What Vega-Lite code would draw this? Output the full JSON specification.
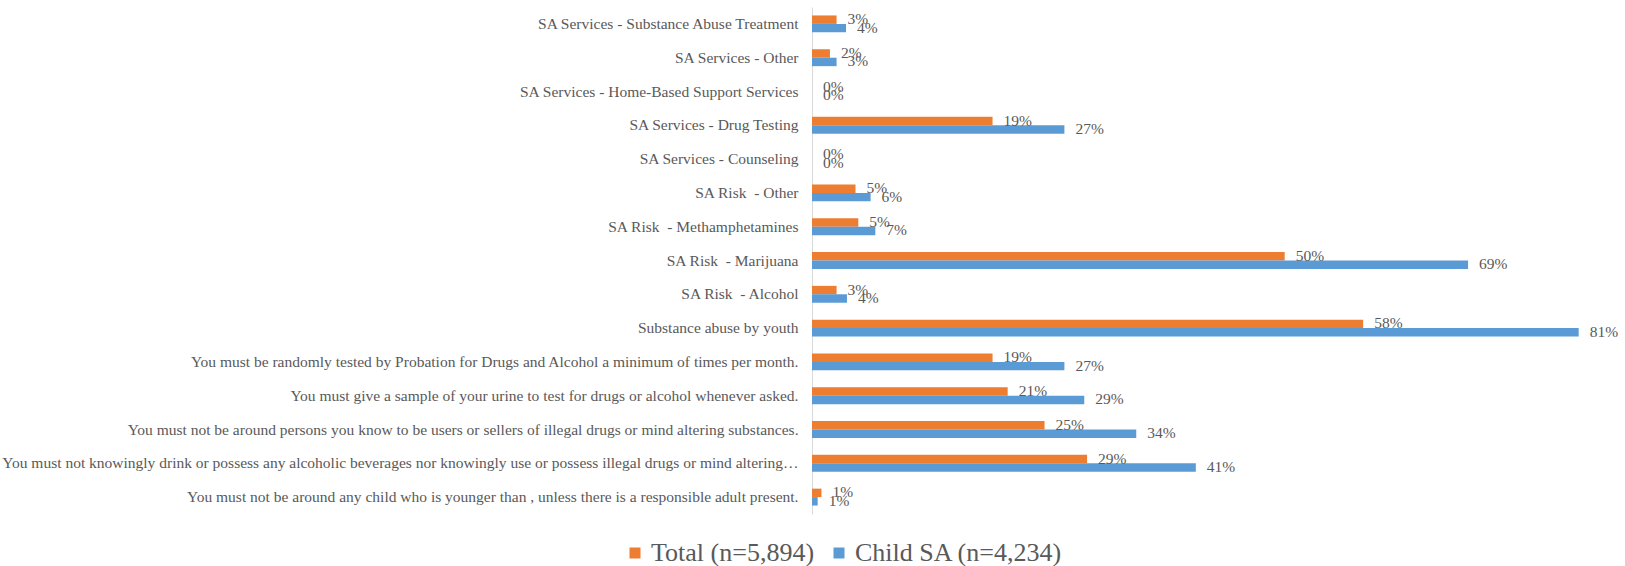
{
  "$schema": "https://vega.github.io/schema/vega-lite/v6.json",
  "autosize": {"type": "none"},
  "padding": {"left": 812, "top": 7, "right": 0, "bottom": 52},
  "width": 813,
  "height": 507,
  "background": "white",
  "config": {
    "view": {"stroke": null},
    "font": "'Liberation Serif', 'Times New Roman', 'DejaVu Serif', serif"
  },
  "data": {
    "values": [
      {"category": "SA Services - Substance Abuse Treatment", "series": "Total (n=5,894)", "value": 0.026},
      {"category": "SA Services - Substance Abuse Treatment", "series": "Child SA (n=4,234)", "value": 0.036},
      {"category": "SA Services - Other", "series": "Total (n=5,894)", "value": 0.019},
      {"category": "SA Services - Other", "series": "Child SA (n=4,234)", "value": 0.026},
      {"category": "SA Services - Home-Based Support Services", "series": "Total (n=5,894)", "value": 0},
      {"category": "SA Services - Home-Based Support Services", "series": "Child SA (n=4,234)", "value": 0},
      {"category": "SA Services - Drug Testing", "series": "Total (n=5,894)", "value": 0.191},
      {"category": "SA Services - Drug Testing", "series": "Child SA (n=4,234)", "value": 0.267},
      {"category": "SA Services - Counseling", "series": "Total (n=5,894)", "value": 0},
      {"category": "SA Services - Counseling", "series": "Child SA (n=4,234)", "value": 0},
      {"category": "SA Risk \u00a0- Other", "series": "Total (n=5,894)", "value": 0.046},
      {"category": "SA Risk \u00a0- Other", "series": "Child SA (n=4,234)", "value": 0.062},
      {"category": "SA Risk \u00a0- Methamphetamines", "series": "Total (n=5,894)", "value": 0.049},
      {"category": "SA Risk \u00a0- Methamphetamines", "series": "Child SA (n=4,234)", "value": 0.067},
      {"category": "SA Risk \u00a0- Marijuana", "series": "Total (n=5,894)", "value": 0.5},
      {"category": "SA Risk \u00a0- Marijuana", "series": "Child SA (n=4,234)", "value": 0.694},
      {"category": "SA Risk \u00a0- Alcohol", "series": "Total (n=5,894)", "value": 0.026},
      {"category": "SA Risk \u00a0- Alcohol", "series": "Child SA (n=4,234)", "value": 0.037},
      {"category": "Substance abuse by youth", "series": "Total (n=5,894)", "value": 0.583},
      {"category": "Substance abuse by youth", "series": "Child SA (n=4,234)", "value": 0.811},
      {"category": "You must be randomly tested by Probation for Drugs and Alcohol a minimum of times per month.", "series": "Total (n=5,894)", "value": 0.191},
      {"category": "You must be randomly tested by Probation for Drugs and Alcohol a minimum of times per month.", "series": "Child SA (n=4,234)", "value": 0.267},
      {"category": "You must give a sample of your urine to test for drugs or alcohol whenever asked.", "series": "Total (n=5,894)", "value": 0.207},
      {"category": "You must give a sample of your urine to test for drugs or alcohol whenever asked.", "series": "Child SA (n=4,234)", "value": 0.288},
      {"category": "You must not be around persons you know to be users or sellers of illegal drugs or mind altering substances.", "series": "Total (n=5,894)", "value": 0.246},
      {"category": "You must not be around persons you know to be users or sellers of illegal drugs or mind altering substances.", "series": "Child SA (n=4,234)", "value": 0.343},
      {"category": "You must not knowingly drink or possess any alcoholic beverages nor knowingly use or possess illegal drugs or mind altering…", "series": "Total (n=5,894)", "value": 0.291},
      {"category": "You must not knowingly drink or possess any alcoholic beverages nor knowingly use or possess illegal drugs or mind altering…", "series": "Child SA (n=4,234)", "value": 0.406},
      {"category": "You must not be around any child who is younger than , unless there is a responsible adult present.", "series": "Total (n=5,894)", "value": 0.01},
      {"category": "You must not be around any child who is younger than , unless there is a responsible adult present.", "series": "Child SA (n=4,234)", "value": 0.006}
    ]
  },
  "encoding": {
    "y": {
      "field": "category",
      "type": "nominal",
      "sort": null,
      "scale": {"paddingInner": 0.5, "paddingOuter": 0.25},
      "axis": {
        "title": null,
        "ticks": false,
        "domainColor": "#D9D9D9",
        "domainWidth": 1,
        "labelPadding": 14,
        "labelLimit": 1000,
        "labelFont": "'Liberation Serif', 'Times New Roman', 'DejaVu Serif', serif",
        "labelFontSize": 15.5,
        "labelColor": "#595959"
      }
    },
    "yOffset": {"field": "series", "type": "nominal", "sort": null, "scale": {"paddingInner": 0, "paddingOuter": 0}},
    "x": {
      "field": "value",
      "type": "quantitative",
      "scale": {"domain": [0, 0.86], "nice": false, "zero": true},
      "axis": null
    }
  },
  "layer": [
    {
      "mark": {"type": "bar"},
      "encoding": {
        "color": {
          "field": "series",
          "type": "nominal",
          "sort": null,
          "scale": {"domain": ["Total (n=5,894)", "Child SA (n=4,234)"], "range": ["#ED7D31", "#5B9BD5"]},
          "legend": {
            "title": null,
            "orient": "none",
            "direction": "horizontal",
            "legendX": -190,
            "legendY": 533,
            "symbolType": "square",
            "symbolSize": 121,
            "symbolStrokeWidth": 0,
            "labelFont": "'Liberation Serif', 'Times New Roman', 'DejaVu Serif', serif",
            "labelFontSize": 26,
            "labelColor": "#595959",
            "labelOffset": 3,
            "columnPadding": 11,
            "labelLimit": 400
          }
        }
      }
    },
    {
      "mark": {"type": "text", "align": "left", "baseline": "alphabetic", "dx": 11, "dy": 4.5, "font": "'Liberation Serif', 'Times New Roman', 'DejaVu Serif', serif", "fontSize": 15.5, "color": "#595959"},
      "encoding": {
        "text": {"field": "value", "type": "quantitative", "format": ".0%"}
      }
    }
  ]
}
